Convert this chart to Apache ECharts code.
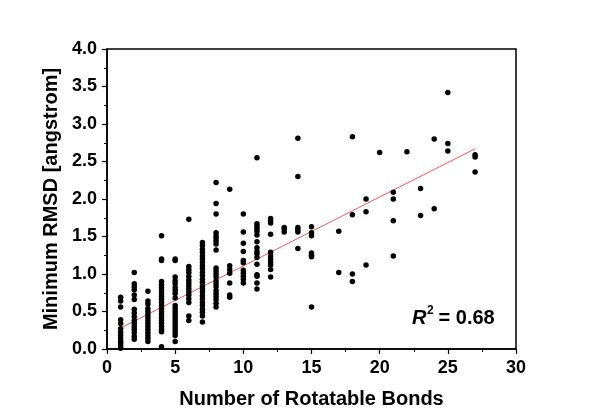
<!DOCTYPE html>
<html>
<head>
<meta charset="utf-8">
<script src="https://cdn.jsdelivr.net/npm/echarts@6/dist/echarts.min.js"></script>
<style>
  html, body { margin: 0; padding: 0; background: #fff; }
  #chart { width: 600px; height: 419px; }
</style>
</head>
<body>
<div id="chart"></div>
<script>
// number of rotatable bonds, one column of RMSD values for each
var bondCounts = [1, 2, 3, 4, 5, 6, 7, 8, 9, 10, 11, 12, 13, 14, 15, 17, 18, 19, 20, 21, 22, 23, 24, 25, 27];
var rmsdValues = [
  [0.69, 0.64, 0.56, 0.39, 0.34, 0.27, 0.22, 0.18, 0.14, 0.10, 0.07, 0.04, 0.01],
  [1.02, 0.87, 0.83, 0.79, 0.72, 0.66, 0.53, 0.48, 0.43, 0.38, 0.34, 0.30, 0.26, 0.22, 0.17, 0.13],
  [0.77, 0.64, 0.60, 0.54, 0.50, 0.46, 0.42, 0.38, 0.34, 0.30, 0.26, 0.22, 0.18, 0.14, 0.10],
  [1.51, 1.20, 1.18, 0.90, 0.86, 0.82, 0.78, 0.74, 0.70, 0.66, 0.62, 0.58, 0.54, 0.50, 0.46, 0.42, 0.38, 0.34, 0.30, 0.26, 0.23, 0.03],
  [1.20, 1.18, 0.96, 0.91, 0.87, 0.82, 0.78, 0.74, 0.68, 0.58, 0.54, 0.50, 0.46, 0.42, 0.38, 0.34, 0.30, 0.26, 0.22, 0.18, 0.10],
  [1.73, 1.10, 1.06, 1.02, 0.97, 0.92, 0.88, 0.84, 0.80, 0.76, 0.72, 0.67, 0.62, 0.44, 0.38],
  [1.42, 1.38, 1.33, 1.29, 1.24, 1.20, 1.16, 1.11, 1.07, 1.02, 0.98, 0.93, 0.89, 0.84, 0.80, 0.76, 0.71, 0.67, 0.62, 0.58, 0.53, 0.49, 0.44, 0.36],
  [2.22, 1.94, 1.80, 1.55, 1.51, 1.48, 1.44, 1.40, 1.32, 1.08, 1.04, 1.00, 0.96, 0.91, 0.87, 0.83, 0.78, 0.74, 0.70, 0.66, 0.61, 0.56],
  [2.13, 1.11, 1.06, 1.01, 0.88, 0.72, 0.69],
  [1.80, 1.56, 1.41, 1.30, 1.18, 1.15, 1.05, 1.01, 0.97, 0.93, 0.88],
  [2.55, 1.67, 1.64, 1.61, 1.57, 1.52, 1.43, 1.35, 1.30, 1.27, 1.22, 1.13, 0.99, 0.97, 0.88, 0.80],
  [1.74, 1.71, 1.68, 1.53, 1.29, 1.24, 1.20, 1.16, 1.12, 1.06, 0.96],
  [1.62, 1.60, 1.56],
  [2.81, 2.30, 1.62, 1.59, 1.56, 1.34],
  [1.63, 1.55, 1.51, 1.28, 1.25, 1.23, 0.56],
  [1.57, 1.02],
  [2.83, 1.79, 1.00, 0.90],
  [2.00, 1.83, 1.12],
  [2.62],
  [2.09, 2.00, 1.71, 1.24],
  [2.63],
  [2.14, 1.78],
  [2.80, 1.87],
  [3.42, 2.74, 2.64],
  [2.59, 2.56, 2.36]
];
// linear fit end points
var fitX = [1, 27];
var fitY = [0.28, 2.67];

var points = [];
bondCounts.forEach(function(b, i) {
  rmsdValues[i].forEach(function(v) { points.push([b, v]); });
});
var fitLine = fitX.map(function(x, i) { return [x, fitY[i]]; });

var font = '"Liberation Sans", Arial, sans-serif';
var chart = echarts.init(document.getElementById('chart'), null, { renderer: 'canvas' });

var axisCommon = {
  axisLine: { onZero: false, lineStyle: { color: '#000', width: 1.5 } },
  axisTick: { inside: false, length: 5, lineStyle: { color: '#000', width: 1.2 } },
  minorTick: { show: true, splitNumber: 2, length: 3, lineStyle: { color: '#000', width: 1 } },
  splitLine: { show: false },
  nameLocation: 'middle',
  nameTextStyle: { color: '#000', fontFamily: font, fontWeight: 'bold', fontSize: 20 }
};

chart.setOption({
  animation: false,
  backgroundColor: '#fff',
  grid: {
    left: 107, right: 84, top: 49, bottom: 70,
    show: true, borderColor: '#000', borderWidth: 1.5
  },
  xAxis: Object.assign({}, axisCommon, {
    type: 'value',
    min: 0, max: 30, interval: 5,
    name: 'Number of Rotatable Bonds',
    nameGap: 40,
    axisLabel: { color: '#000', fontFamily: font, fontWeight: 'bold', fontSize: 18, margin: 10 }
  }),
  yAxis: Object.assign({}, axisCommon, {
    type: 'value',
    min: 0, max: 4, interval: 0.5,
    name: 'Minimum RMSD [angstrom]',
    nameGap: 44,
    axisLabel: {
      color: '#000', fontFamily: font, fontWeight: 'bold', fontSize: 18, margin: 10,
      formatter: function(v) { return v.toFixed(1); }
    }
  }),
  graphic: [
    { type: 'text', left: 412, top: 308, style: { text: 'R', fill: '#000', font: 'italic bold 20px ' + font } },
    { type: 'text', left: 427, top: 305, style: { text: '2', fill: '#000', font: 'bold 12px ' + font } },
    { type: 'text', left: 433, top: 308, style: { text: ' = 0.68', fill: '#000', font: 'bold 20px ' + font } }
  ],
  series: [
    {
      type: 'scatter',
      data: points,
      symbol: 'circle',
      symbolSize: 5.5,
      itemStyle: { color: '#000', opacity: 1 },
      z: 3
    },
    {
      type: 'line',
      data: fitLine,
      symbol: 'none',
      lineStyle: { color: '#ff5555', width: 1 },
      z: 2
    }
  ]
});
</script>
</body>
</html>
